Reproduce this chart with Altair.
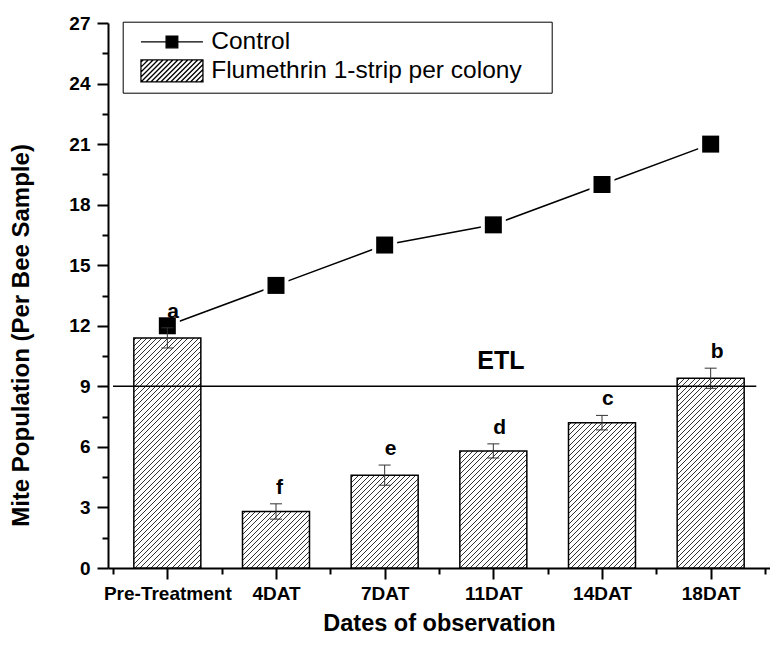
import json
import altair as alt
import pandas as pd

# ---------------- data ----------------
categories = ["Pre-Treatment", "4DAT", "7DAT", "11DAT", "14DAT", "18DAT"]
control = [12, 14, 16, 17, 19, 21]
flumethrin = [11.4, 2.8, 4.6, 5.8, 7.2, 9.4]
flumethrin_err = [0.5, 0.38, 0.5, 0.35, 0.36, 0.5]
letters = ["a", "f", "e", "d", "c", "b"]
series_names = ["Control", "Flumethrin 1-strip per colony"]
etl_value = 9
etl_extent = [0.5, 6.42]
etl_label = "ETL"
etl_label_pos = [4.07, 9.84]
y_tick_values = [0, 1.5, 3, 4.5, 6, 7.5, 9, 10.5, 12, 13.5, 15, 16.5, 18,
                 19.5, 21, 22.5, 24, 25.5, 27]
x_tick_values = [0.5, 1, 1.5, 2, 2.5, 3, 3.5, 4, 4.5, 5, 5.5, 6, 6.5]

# ---------------- style ----------------
FONT = "Liberation Sans"
PLOT_W, PLOT_H = 662, 545
Y_MAX = 27
BAR_W = 67

df = pd.DataFrame({
    "idx": list(range(1, len(categories) + 1)),
    "cat": categories,
    "control": control,
    "mean": flumethrin,
    "err": flumethrin_err,
    "letter": letters,
})
df["lo"] = df["mean"] - df["err"]
df["hi"] = df["mean"] + df["err"]

etl_df = pd.DataFrame({"x": [etl_extent[0]], "x2": [etl_extent[1]], "y": [etl_value]})
etl_txt = pd.DataFrame({"x": [etl_label_pos[0]], "y": [etl_label_pos[1]], "t": [etl_label]})
leg_df = pd.DataFrame({"series": series_names})

xs = alt.Scale(domain=[0.5, 6.5], nice=False, zero=False)
ys = alt.Scale(domain=[0, Y_MAX], nice=False, zero=True)

x_axis = alt.Axis(
    values=x_tick_values,
    labelExpr=f"datum.value % 1 == 0 ? {json.dumps(categories)}[datum.value - 1] : ''",
    tickSize={"condition": {"test": "datum.value % 1 == 0", "value": 11}, "value": 6},
    title="Dates of observation",
    titleY=62, titleBaseline="alphabetic",
    titleFontSize=23.5, titleFontWeight="bold",
    labelFontSize=19, labelFontWeight="bold", labelPadding=5,
    labelOverlap=False, labelFlush=False,
    domainWidth=2, tickWidth=2, grid=False,
)
y_axis = alt.Axis(
    values=y_tick_values,
    labelExpr="datum.value % 3 == 0 ? datum.label : ''",
    tickSize={"condition": {"test": "datum.value % 3 == 0", "value": 11}, "value": 6},
    title="Mite Population (Per Bee Sample)",
    titleX=-80, titleY=312, titleBaseline="alphabetic",
    titleFontSize=24, titleFontWeight="bold",
    labelFontSize=19, labelFontWeight="bold", labelPadding=7,
    labelOverlap=False,
    domainWidth=2, tickWidth=2, grid=False,
)


def X(field="idx"):
    return alt.X(f"{field}:Q", scale=xs, axis=x_axis)


def Y(field):
    return alt.Y(f"{field}:Q", scale=ys, axis=y_axis)


def hatch(w, h, period=5.2, lw=1.0, dark="#333333", light="white"):
    total = w + h
    c = total / (w * w + h * h)
    stops = [{"offset": 0, "color": light}]
    pos = period / 2
    while pos < total:
        a = max(0.0, (pos - lw / 2) / total)
        b = min(1.0, (pos + lw / 2) / total)
        stops += [{"offset": a, "color": light}, {"offset": a, "color": dark},
                  {"offset": b, "color": dark}, {"offset": b, "color": light}]
        pos += period
    stops.append({"offset": 1, "color": light})
    return {"gradient": "linear", "x1": 0, "y1": 0, "x2": c * w, "y2": c * h,
            "stops": stops}


layers = []

# control line with gaps around markers
layers.append(alt.Chart(df).mark_line(color="black", strokeWidth=1.5)
              .encode(x=X(), y=Y("control")))
layers.append(alt.Chart(df).mark_point(shape="square", filled=True, fill="white",
                                       size=625, opacity=1, strokeWidth=0)
              .encode(x=X(), y=Y("control")))
layers.append(alt.Chart(df).mark_point(shape="square", filled=True, color="black",
                                       size=289, opacity=1)
              .encode(x=X(), y=Y("control")))

# hatched bars, one layer per bar so the hatch spacing is uniform
for i, v in enumerate(flumethrin):
    h = v * PLOT_H / Y_MAX
    layers.append(
        alt.Chart(df).transform_filter(f"datum.idx == {i + 1}")
        .mark_bar(size=BAR_W, fill=hatch(BAR_W, h), stroke="black", strokeWidth=1.5)
        .encode(x=X(), y=Y("mean"))
    )

# error bars
layers.append(alt.Chart(df).mark_rule(color="#333333", strokeWidth=1)
              .encode(x=X(), y=Y("lo"), y2="hi"))
for f in ["lo", "hi"]:
    layers.append(alt.Chart(df).mark_tick(orient="horizontal", size=12, thickness=1,
                                          color="#333333", opacity=1)
                  .encode(x=X(), y=Y(f)))

# ETL rule and label
layers.append(alt.Chart(etl_df).mark_rule(color="black", strokeWidth=1.5)
              .encode(x=X("x"), x2="x2", y=Y("y")))
layers.append(alt.Chart(etl_txt).mark_text(align="center", baseline="alphabetic",
                                           fontSize=25, fontWeight="bold", font=FONT,
                                           color="black")
              .encode(x=X("x"), y=Y("y"), text="t:N"))

# significance letters
layers.append(alt.Chart(df).mark_text(align="left", baseline="alphabetic", dy=-10,
                                      fontSize=21, fontWeight="bold", font=FONT,
                                      color="black")
              .encode(x=X(), y=Y("hi"), text="letter:N"))

# legend glyphs (line + square marker; hatched swatch)
half = 31 / 11.0
ctrl_path = f"M{-half:.3f},0H{half:.3f}M-0.53,-0.53H0.53V0.53H-0.53Z"
hp = [f"M{-half:.3f},-1H{half:.3f}V1H{-half:.3f}Z"]
cc = -half - 1 + 0.2
while cc < half + 1:
    xa = max(cc - 1, -half)
    xb = min(cc + 1, half)
    if xb - xa > 0.02:
        hp.append(f"M{xa:.3f},{cc - xa:.3f}L{xb:.3f},{cc - xb:.3f}")
    cc += 0.45
hp.append("M33.5,0")  # extends the legend frame to the right, draws nothing
hatch_path = "".join(hp)

leg = alt.Legend(
    title=None, orient="none", legendX=14.7, legendY=-1.3,
    padding=8, rowPadding=3, strokeColor="black", fillColor="white",
    symbolSize=484, symbolOffset=29, labelOffset=27,
    symbolStrokeWidth=1.3, symbolOpacity=1,
    labelFont=FONT, labelFontSize=24.5, labelColor="black",
    labelLimit=0,
)
layers.append(
    alt.Chart(leg_df).mark_point(filled=True, opacity=0, strokeWidth=1.3)
    .encode(
        shape=alt.Shape("series:N", scale=alt.Scale(domain=series_names,
                                                    range=[ctrl_path, hatch_path]),
                        legend=leg),
        fill=alt.Fill("series:N", scale=alt.Scale(domain=series_names,
                                                  range=["black", "white"]),
                      legend=leg),
        stroke=alt.Stroke("series:N", scale=alt.Scale(domain=series_names,
                                                      range=["black", "black"]),
                          legend=leg),
    )
)

chart = (
    alt.layer(*layers)
    .properties(width=PLOT_W, height=PLOT_H,
                autosize=alt.AutoSizeParams(type="none"),
                padding={"left": 100, "top": 15, "right": 0, "bottom": 69})
    .configure_view(stroke=None)
    .configure_axis(domainColor="black", tickColor="black", labelColor="black",
                    titleColor="black", labelFont=FONT, titleFont=FONT)
)

chart.save("out.html", embed_options={"renderer": "svg", "actions": False})
